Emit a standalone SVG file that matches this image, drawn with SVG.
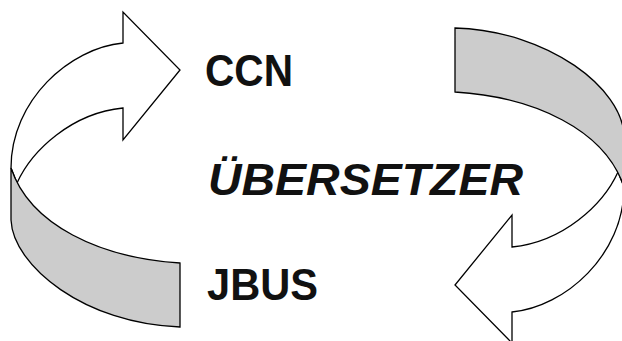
<svg xmlns="http://www.w3.org/2000/svg" width="622" height="341" viewBox="0 0 622 341">
  <style>
    .arrow { fill: #ffffff; stroke: #000000; stroke-width: 1.3; stroke-linejoin: miter; }
    .band { fill: #cccccc; stroke: #000000; stroke-width: 1.3; }
    .label { font-family: "Liberation Sans", Arial, sans-serif; font-weight: bold; font-size: 44px; fill: #111111; }
    .italic { font-style: italic; }
  </style>
  <defs>
    <!-- one curved arrow: white arrowhead part plus the grey turning band -->
    <g id="curl">
      <path class="arrow" d="M123,43 L123,12 L180,70 L123,140 L123,108 C72,113 32,150 17,183 L11,168 C11,100 70,48 123,43 Z"/>
      <path class="band" d="M11,168 L11,220 C13,266 85,324 180,327 L180,263 C100,258 30,225 11,168 Z"/>
    </g>
  </defs>
  <g id="connectors">
    <use id="arrow-left" href="#curl"/>
    <use id="arrow-right" href="#curl" transform="rotate(180 317.5 177.5)"/>
  </g>
  <g id="node-ccn">
    <text class="label" x="205" y="86" textLength="88" lengthAdjust="spacingAndGlyphs">CCN</text>
  </g>
  <g id="node-uebersetzer">
    <text class="label italic" x="208" y="195" textLength="315" lengthAdjust="spacingAndGlyphs">ÜBERSETZER</text>
  </g>
  <g id="node-jbus">
    <text class="label" x="207" y="300" textLength="111" lengthAdjust="spacingAndGlyphs">JBUS</text>
  </g>
</svg>
